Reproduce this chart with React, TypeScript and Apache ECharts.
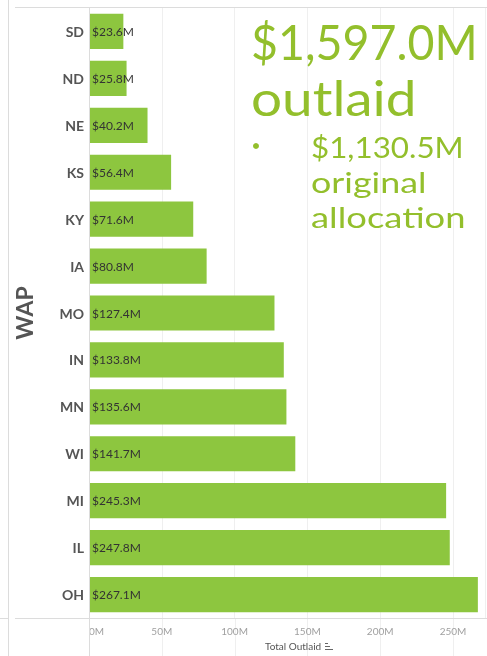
import React, { useEffect, useRef } from "react";
import * as echarts from "echarts";

const states = ["SD", "ND", "NE", "KS", "KY", "IA", "MO", "IN", "MN", "WI", "MI", "IL", "OH"];
const outlaid = [23.6, 25.8, 40.2, 56.4, 71.6, 80.8, 127.4, 133.8, 135.6, 141.7, 245.3, 247.8, 267.1];
const xTicks = [0, 50, 100, 150, 200, 250];
const totalOutlaid = "$1,597.0M";
const originalAllocation = "$1,130.5M";
const groupName = "WAP";

const GREEN = "#8dc63f";
const TEXT_GREEN = "#93bf2c";
const FONT = "Lato, 'Noto Sans', sans-serif";

export default function App() {
  const ref = useRef<HTMLDivElement>(null);
  useEffect(() => {
    if (!ref.current) return;
    const chart = echarts.init(ref.current, null, { renderer: "svg" });
    const gridTop = 8;
    const gridBottomY = 618;
    chart.setOption({
      animation: false,
      grid: { left: 89, right: 2, top: gridTop, bottom: 656 - gridBottomY },
      xAxis: {
        type: "value",
        min: 0,
        max: 272,
        interval: 50,
        axisLine: { show: false },
        axisTick: { show: false },
        splitLine: { show: true, lineStyle: { color: "#efefef", width: 1 } },
        axisLabel: {
          color: "#a0a0a0",
          fontSize: 10,
          fontFamily: FONT,
          margin: 8,
          showMaxLabel: false,
          alignMinLabel: "left",
          formatter: (v: number) => (xTicks.includes(v) ? `${v}M` : ""),
        },
      },
      yAxis: {
        type: "category",
        inverse: true,
        data: states,
        axisLine: { show: false },
        axisTick: { show: false },
        axisLabel: {
          color: "#555555",
          fontSize: 14,
          fontWeight: "bold",
          fontFamily: FONT,
          margin: 5,
        },
      },
      series: [
        {
          type: "bar",
          data: outlaid,
          barCategoryGap: "25%",
          itemStyle: { color: GREEN },
          label: {
            show: true,
            position: "insideLeft",
            distance: 3,
            color: "#333333",
            fontSize: 12,
            fontFamily: FONT,
            formatter: (p: any) => `$${Number(p.value).toFixed(1)}M`,
          },
        },
      ],
    });

    const x0 = chart.convertToPixel({ xAxisIndex: 0 }, 0) as number;
    const gridLineExt = xTicks.slice(1).map((t) => {
      const x = Math.round(chart.convertToPixel({ xAxisIndex: 0 }, t) as number) + 0.5;
      return {
        type: "line",
        shape: { x1: x, y1: gridBottomY, x2: x, y2: 656 },
        style: { stroke: "#efefef", lineWidth: 1 },
        silent: true,
      };
    });
    const ax = Math.round(x0) + 0.5;

    const bigText = (text: string, x: number, y: number, size: number, sx: number) => ({
      type: "text",
      x,
      y,
      scaleX: sx,
      style: { text, fill: TEXT_GREEN, font: `${size}px ${FONT}`, align: "left", verticalAlign: "middle" },
      z: 20,
    });

    chart.setOption({
      graphic: [
        ...gridLineExt,
        { type: "line", shape: { x1: 8.5, y1: 0, x2: 8.5, y2: 656 }, style: { stroke: "#dcdcdc", lineWidth: 1 } },
        { type: "line", shape: { x1: 15, y1: 7.5, x2: 487, y2: 7.5 }, style: { stroke: "#dcdcdc", lineWidth: 1 } },
        { type: "line", shape: { x1: 15, y1: gridBottomY + 0.5, x2: 487, y2: gridBottomY + 0.5 }, style: { stroke: "#dcdcdc", lineWidth: 1 } },
        { type: "line", shape: { x1: 0, y1: gridBottomY + 0.5, x2: 8, y2: gridBottomY + 0.5 }, style: { stroke: "#dcdcdc", lineWidth: 1 } },
        { type: "line", shape: { x1: ax, y1: 8, x2: ax, y2: 656 }, style: { stroke: "#dcdcdc", lineWidth: 1 }, z: 10 },
        {
          type: "text",
          x: 24,
          y: 313,
          rotation: Math.PI / 2,
          style: {
            text: groupName,
            fill: "#555555",
            font: `bold 23px ${FONT}`,
            align: "center",
            verticalAlign: "middle",
          },
        },
        bigText(totalOutlaid, 251, 41, 49, 0.95),
        bigText("outlaid", 251, 97, 49, 1.12),
        {
          type: "circle",
          shape: { cx: 256, cy: 146, r: 3 },
          style: { fill: TEXT_GREEN },
          z: 20,
        },
        bigText(originalAllocation, 311, 147, 28, 1.12),
        bigText("original", 311, 182, 28, 1.28),
        bigText("allocation", 311, 217, 28, 1.3),
        {
          type: "text",
          x: 265,
          y: 646,
          style: { text: "Total Outlaid", fill: "#555555", font: `10px ${FONT}`, align: "left", verticalAlign: "middle" },
        },
        { type: "line", shape: { x1: 325, y1: 643.5, x2: 328, y2: 643.5 }, style: { stroke: "#666", lineWidth: 1 } },
        { type: "line", shape: { x1: 325, y1: 646.5, x2: 330, y2: 646.5 }, style: { stroke: "#666", lineWidth: 1 } },
        { type: "line", shape: { x1: 325, y1: 649.5, x2: 333, y2: 649.5 }, style: { stroke: "#666", lineWidth: 1 } },
      ],
    });

    return () => chart.dispose();
  }, []);
  return <div ref={ref} style={{ position: "fixed", left: 0, top: 0, width: 487, height: 656 }} />;
}
